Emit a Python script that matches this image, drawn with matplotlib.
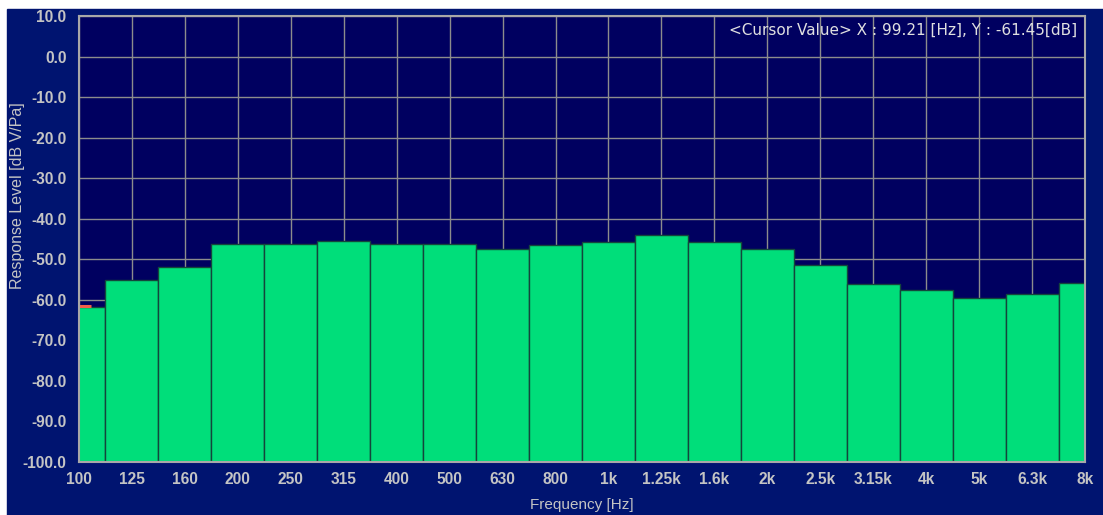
import matplotlib
matplotlib.use('Agg')
import matplotlib.pyplot as plt
from matplotlib.patches import Rectangle

# 1/3 octave band centres and response levels [dB V/Pa]
bands = ['100', '125', '160', '200', '250', '315', '400', '500', '630', '800',
         '1k', '1.25k', '1.6k', '2k', '2.5k', '3.15k', '4k', '5k', '6.3k', '8k']
levels = [-61.8, -55.1, -51.8, -46.3, -46.3, -45.4, -46.3, -46.3, -47.4, -46.6,
          -45.7, -43.9, -45.7, -47.4, -51.4, -56.0, -57.7, -59.55, -58.6, -55.9]
yticks = list(range(10, -101, -10))

cursor_x = 99.21
cursor_y = -61.45

outer_bg = '#001470'
inner_bg = '#000060'
bar_col = '#00DE7A'
txt_col = '#C4C4C4'

W, H = 1103, 515
fig = plt.figure(figsize=(W / 100, H / 100), dpi=100, facecolor='white')
# blue panel, white strip left and top
fig.patches.append(Rectangle((7 / W, 0), 1 - 7 / W, (H - 9) / H,
                             transform=fig.transFigure, color=outer_bg, zorder=-5))

ax = fig.add_axes([79 / W, (H - 462) / H, (1085 - 79) / W, (462 - 16) / H])
ax.set_facecolor(inner_bg)

x = list(range(len(bands)))
bottom = -100
ax.bar(x, [v - bottom for v in levels], bottom=bottom, width=1.0, color=bar_col,
       edgecolor='#14463C', linewidth=1.0, zorder=3)

# cursor marker at the left edge
ax.hlines(cursor_y, 0, 0.23, color='#F0604A', linewidth=2.2, zorder=4)

ax.set_xlim(0, len(bands) - 1)
ax.set_ylim(-100, 10)
ax.set_xticks(x)
ax.set_xticklabels(bands)
ax.set_yticks(yticks)
ax.set_yticklabels(['%.1f' % v for v in yticks])
ax.grid(True, color='#8C8C8C', linewidth=1.0, zorder=0)
ax.set_axisbelow(True)
ax.tick_params(length=0, colors=txt_col)
for lab in ax.get_xticklabels() + ax.get_yticklabels():
    lab.set_fontfamily('Liberation Sans')
    lab.set_fontweight('bold')
    lab.set_fontsize(11.2)
    lab.set_color(txt_col)
ax.tick_params(axis='x', pad=7)
ax.tick_params(axis='y', pad=9)
for sp in ax.spines.values():
    sp.set_color('#A8A8A8')
    sp.set_linewidth(1.5)
    sp.set_zorder(5)

fig.text(582 / W, 1 - 505 / H, 'Frequency [Hz]', ha='center', va='center',
         color=txt_col, fontsize=11, family='Liberation Sans')
fig.text(18 / W, 1 - 196 / H, 'Response Level [dB V/Pa]', ha='center', va='center',
         rotation=90, color=txt_col, fontsize=11.5, family='Liberation Sans')

ax.text(0.9925, 0.967, '<Cursor Value> X : %.2f [Hz], Y : %.2f[dB]' % (cursor_x, cursor_y),
        transform=ax.transAxes, ha='right', va='center', color='#E0E0E0',
        fontsize=11, family='DejaVu Sans', zorder=6)

fig.savefig('out.png', dpi=100, facecolor=fig.get_facecolor())
